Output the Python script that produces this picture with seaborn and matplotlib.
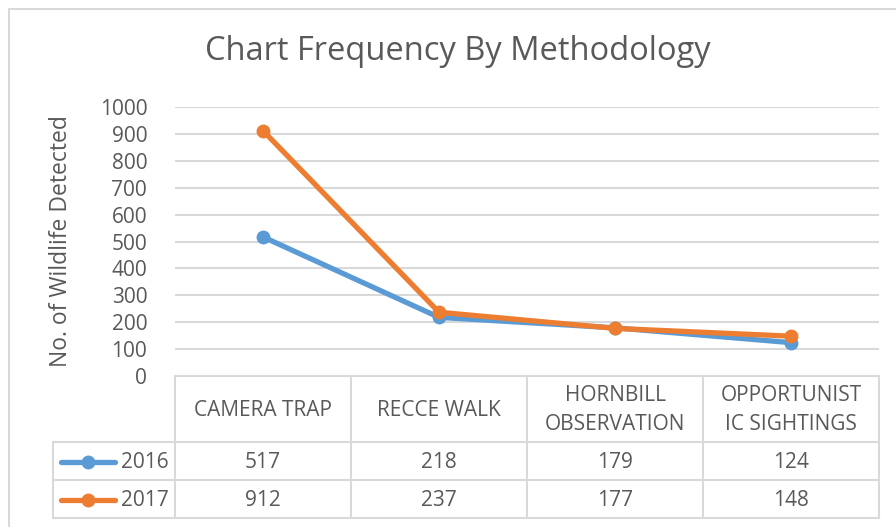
import pandas as pd
import matplotlib.pyplot as plt
import seaborn as sns
from matplotlib.lines import Line2D
from matplotlib.transforms import blended_transform_factory

# chart data
methods = ["CAMERA TRAP", "RECCE WALK", "HORNBILL\nOBSERVATION", "OPPORTUNIST\nIC SIGHTINGS"]
years = ["2016", "2017"]
counts_2016 = [517, 218, 179, 124]
counts_2017 = [912, 237, 177, 148]
y_ticks = [0, 100, 200, 300, 400, 500, 600, 700, 800, 900, 1000]

W, H = 896, 527
GRID = "#D9D9D9"
TXT = "#595959"
palette = {"2016": "#5B9BD5", "2017": "#ED7D31"}

sns.set_style("white")
plt.rcParams['font.family'] = ['Open Sans', 'DejaVu Sans']

df = pd.DataFrame({
    "Method": methods * 2,
    "Year": [years[0]] * 4 + [years[1]] * 4,
    "Count": counts_2016 + counts_2017,
})

fig = plt.figure(figsize=(W / 100, H / 100), dpi=100)

def fx(px):
    return px / W

def fy(py):
    return 1 - py / H

left, right, top, bottom = 175, 879, 107, 376
ax = fig.add_axes([fx(left), fy(bottom), fx(right - left), (bottom - top) / H])

for yr in years:
    sub = df[df["Year"] == yr]
    sns.lineplot(data=sub, x="Method", y="Count", ax=ax, color=palette[yr],
                 linewidth=3.8, marker="o", markersize=10, markeredgewidth=0,
                 sort=False, legend=False, zorder=3)

ax.set_xlim(-0.5, len(methods) - 0.5)
ax.set_ylim(0, 1000)
ax.set_yticks(y_ticks)
ax.set_xticks([])
ax.set_xlabel("")
ax.set_ylabel("No. of Wildlife Detected", fontsize=16.5, color=TXT, labelpad=19)
ax.tick_params(axis="y", length=0, pad=20, labelsize=15, labelcolor=TXT)
ax.grid(axis="y", color=GRID, linewidth=1.5)
ax.set_axisbelow(True)
for s in ax.spines.values():
    s.set_visible(False)

fig.text(fx(458), fy(52), "Chart Frequency By Methodology", ha="center", va="center",
         fontsize=23.5, color=TXT)

# outer chart border
fig.add_artist(Line2D([fx(8.5), fx(8.5)], [fy(8.5), 0], color=GRID, lw=1.5))
fig.add_artist(Line2D([fx(8.5), 1], [fy(8.5), fy(8.5)], color=GRID, lw=1.5))

# data table below the plot
col_edges = [175, 351, 527, 703, 879]
row_edges = [376, 442, 480, 518]
row_left = 53

def hline(y, x0, x1):
    fig.add_artist(Line2D([fx(x0), fx(x1)], [fy(y), fy(y)], color=GRID, lw=1.5))

def vline(x, y0, y1):
    fig.add_artist(Line2D([fx(x), fx(x)], [fy(y0), fy(y1)], color=GRID, lw=1.5))

hline(row_edges[0], col_edges[0], col_edges[-1])
for y in row_edges[1:]:
    hline(y, row_left, col_edges[-1])
for x in col_edges:
    vline(x, row_edges[0], row_edges[-1])
vline(row_left, row_edges[1], row_edges[-1])

trans = blended_transform_factory(ax.transData, fig.transFigure)
for i, m in enumerate(methods):
    ax.text(i, fy((row_edges[0] + row_edges[1]) / 2 + 1), m, transform=trans, ha="center",
            va="center", fontsize=15, color=TXT, linespacing=1.45, clip_on=False)

series = {"2016": counts_2016, "2017": counts_2017}
for r, yr in enumerate(years):
    yc = (row_edges[r + 1] + row_edges[r + 2]) / 2 + 1
    for i, v in enumerate(series[yr]):
        ax.text(i, fy(yc), str(v), transform=trans, ha="center", va="center",
                fontsize=15, color=TXT, clip_on=False)
    fig.add_artist(Line2D([fx(61), fx(115)], [fy(yc), fy(yc)], color=palette[yr],
                          lw=3.8, solid_capstyle="round"))
    fig.add_artist(Line2D([fx(88)], [fy(yc)], color=palette[yr], marker="o",
                          markersize=10, markeredgewidth=0, lw=0))
    fig.text(fx(121), fy(yc), yr, ha="left", va="center", fontsize=15, color=TXT)

fig.savefig("out.png", dpi=100)
